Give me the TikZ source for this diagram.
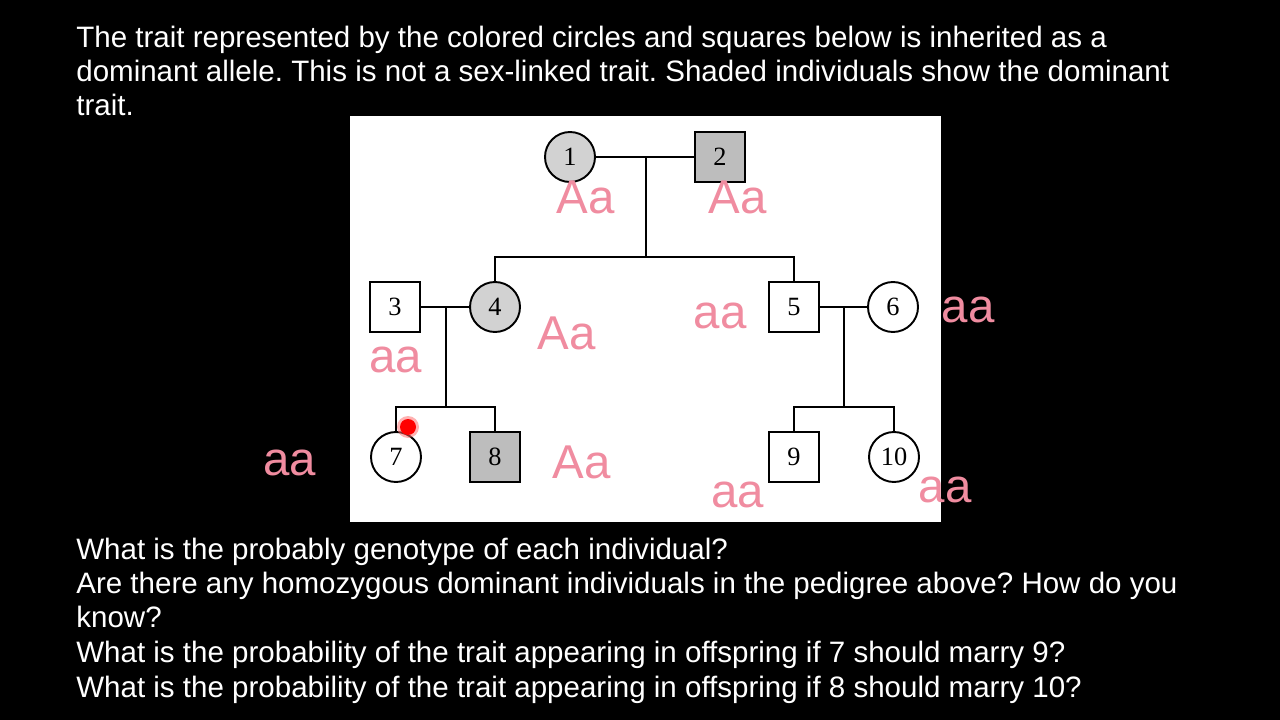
\documentclass[tikz,border=0pt]{standalone}
\usepackage{fontspec}
\setmainfont{Liberation Sans}
\newfontfamily\numfont{Liberation Serif}
\usepackage{xcolor}
\usetikzlibrary{calc}
\definecolor{rosa}{HTML}{F08CA0}
\definecolor{grisclaro}{HTML}{D2D2D2}
\definecolor{grisosc}{HTML}{BDBDBD}
\frenchspacing
\tikzset{
  texto/.style   = {anchor=base west, text=white, inner sep=0pt,
                    font=\fontsize{16.8}{19}\selectfont},
  persona/.style = {draw=black, line width=1.1pt, inner sep=0pt,
                    minimum size=10mm, fill=white,
                    font=\numfont\fontsize{15}{17}\selectfont},
  mujer/.style   = {persona, circle},
  varon/.style   = {persona, rectangle},
  afectada/.style= {mujer, fill=grisclaro},
  afectado/.style= {varon, fill=grisosc},
  linea/.style   = {line width=1.1pt, draw=black},
  anota/.style   = {text=rosa, inner sep=0pt,
                    font=\fontsize{27}{30}\selectfont},
}
\begin{document}
\begin{tikzpicture}[x=0.2mm, y=-0.2mm]
    \useasboundingbox (0,0) rectangle (1280,720);
    \fill[black] (0,0) rectangle (1280,720);

    % --- enunciado
    \node[texto] (t1) at (76,48) {The trait represented by the colored circles and squares below is inherited as a};
    \node[texto] (t2) at (76,82) {dominant allele. This is not a sex-linked trait. Shaded individuals show the dominant};
    \node[texto] (t3) at (76,116) {trait.};

    % --- fondo del pedigri
    \fill[white] (350,116) rectangle (941,522);

    % --- generacion I
    \node[afectada] (p1) at (570,157) {1};
    \node[afectado] (p2) at (720,157) {2};

    % --- generacion II
    \node[varon]    (p3) at (395,307) {3};
    \node[afectada] (p4) at (495,307) {4};
    \node[varon]    (p5) at (794,307) {5};
    \node[mujer]    (p6) at (893,307) {6};

    % --- generacion III
    \node[mujer]    (p7)  at (396,457) {7};
    \node[afectado] (p8)  at (495,457) {8};
    \node[varon]    (p9)  at (794,457) {9};
    \node[mujer]    (p10) at (894,457) {10};

    % --- parejas y descendencia
    \coordinate (m12) at (646,157);
    \coordinate (m34) at (446,307);
    \coordinate (m56) at (844,307);
    \coordinate (h12) at (m12 |- 0,257);
    \coordinate (h34) at (m34 |- 0,407);
    \coordinate (h56) at (m56 |- 0,407);

    \draw[linea] (p1) -- (p2);
    \draw[linea] (m12) -- (h12);
    \draw[linea] (p4.north) |- (h12) -| (p5.north);

    \draw[linea] (p3) -- (p4);
    \draw[linea] (m34) -- (h34);
    \draw[linea] (p7.north) |- (h34) -| (p8.north);

    \draw[linea] (p5) -- (p6);
    \draw[linea] (m56) -- (h56);
    \draw[linea] (p9.north) |- (h56) -| (p10.north);

    % --- puntero
    \fill[red!60, opacity=0.5] (408,427) circle (11);
    \fill[red] (408,427) circle (8);

    % --- genotipos a mano
    \node[anota] (g1)  at (586,197) {Aa};
    \node[anota] (g2)  at (738,197) {Aa};
    \node[anota] (g3)  at (396,360) {aa};
    \node[anota] (g4)  at (567,333) {Aa};
    \node[anota] (g5)  at (720,316) {aa};
    \node[anota] (g6)  at (968,310) {aa};
    \node[anota] (g7)  at (290,463) {aa};
    \node[anota] (g8)  at (582,462) {Aa};
    \node[anota] (g9)  at (738,495) {aa};
    \node[anota] (g10) at (945,490) {aa};

    % --- preguntas
    \node[texto] (q1) at (76,559) {What is the probably genotype of each individual?};
    \node[texto] (q2) at (76,593) {Are there any homozygous dominant individuals in the pedigree above? How do you};
    \node[texto] (q3) at (76,627) {know?};
    \node[texto] (q4) at (76,662) {What is the probability of the trait appearing in offspring if 7 should marry 9?};
    \node[texto] (q5) at (76,697) {What is the probability of the trait appearing in offspring if 8 should marry 10?};
\end{tikzpicture}
\end{document}
